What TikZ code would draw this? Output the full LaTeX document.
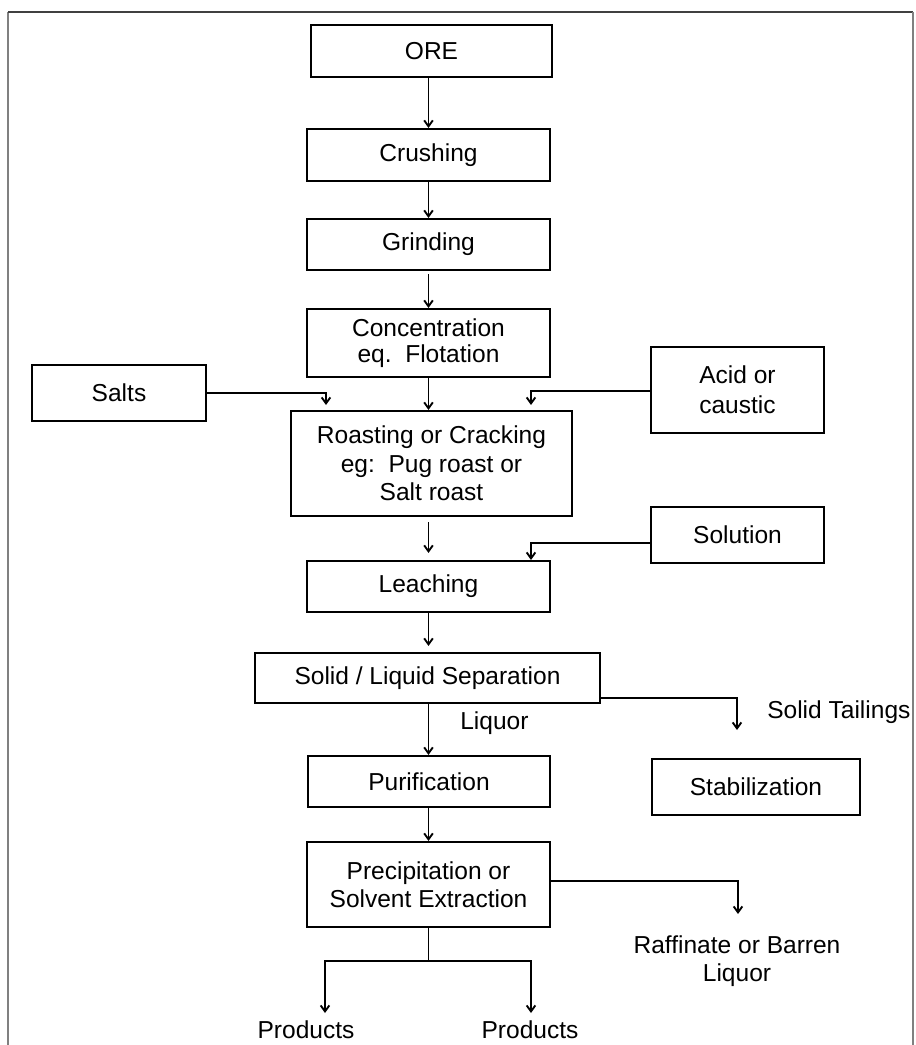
\documentclass[tikz,border=0pt]{standalone}
\usepackage{fontspec}
\setmainfont{Liberation Sans}
\usetikzlibrary{arrows.meta}
\begin{document}
\begin{tikzpicture}[x=0.75pt,y=-0.75pt,
  box/.style={draw, line width=1.6pt, inner sep=0pt, align=center,
    font=\fontsize{18.4}{21.4}\selectfont},
  lab/.style={inner sep=0pt, align=center, font=\fontsize{18.4}{21.4}\selectfont},
  conn/.style={line width=1.4pt},
  arr/.style={line width=1.4pt, -{Straight Barb[length=4.5pt,width=6.5pt]}},
  frameline/.style={line width=1.5pt, color=gray}]
\useasboundingbox (0,0) rectangle (915,1045);
% outer frame (open at the bottom)
\draw[frameline] (8,1045) -- (8,12);
\draw[frameline, color=black!75] (8,12) -- (913,12);
\draw[frameline] (913,12) -- (913,1045);
% boxes
\node[box, minimum width=180.75pt, minimum height=39pt] (ore) at (431.5,51) {ORE};
\node[box, minimum width=182.25pt, minimum height=39pt] (crush) at (428.5,155) {Crushing};
\node[box, minimum width=182.25pt, minimum height=38.25pt] (grind) at (428.5,244.5) {Grinding};
\node[box, minimum width=182.25pt, minimum height=51pt, font=\fontsize{18.4}{19}\selectfont] (conc) at (428.5,343) {Concentration\\eq.\ \ Flotation};
\node[box, minimum width=130.5pt, minimum height=42pt] (salts) at (119,393) {Salts};
\node[box, minimum width=129.75pt, minimum height=64.5pt, font=\fontsize{18.4}{22.5}\selectfont] (acid) at (737.5,390) {Acid or\\caustic};
\node[box, minimum width=210.75pt, minimum height=78.75pt] (roast) at (431.5,463.5) {Roasting or Cracking\\eg:\ \ Pug roast or\\Salt roast};
\node[box, minimum width=129.75pt, minimum height=42pt] (sol) at (737.5,535) {Solution};
\node[box, minimum width=182.25pt, minimum height=38.25pt] (leach) at (428.5,586.5) {Leaching};
\node[box, minimum width=258.75pt, minimum height=37.5pt] (sep) at (427.5,678) {Solid / Liquid Separation};
\node[box, minimum width=181.5pt, minimum height=38.25pt] (pur) at (429,781.5) {Purification};
\node[box, minimum width=156pt, minimum height=42pt] (stab) at (756,787) {Stabilization};
\node[box, minimum width=182.25pt, minimum height=63.75pt] (prec) at (428.5,884.5) {Precipitation or\\Solvent Extraction};
% free labels
\node[lab, anchor=west] (tail) at (767,712) {Solid Tailings};
\node[lab, anchor=west] (liq) at (460,723) {Liquor};
\node[lab] (raff) at (737,961) {Raffinate or Barren\\Liquor};
\node[lab] (prodL) at (306,1030) {Products};
\node[lab] (prodR) at (530,1030) {Products};
% connector end points
\coordinate (saltin) at (326,405);
\coordinate (acidin) at (531,405);
\coordinate (solin) at (531,560);
\coordinate (tailend) at (737,730);
\coordinate (raffend) at (738,914);
\coordinate (split) at (428.5,961);
\coordinate (pL) at (325,1013);
\coordinate (pR) at (531,1013);
% connectors
\draw[arr] (ore.south -| crush.south) -- (crush);
\draw[arr] (crush) -- (grind);
\draw[arr, shorten <=2.25pt] (grind) -- (conc);
\draw[arr] (conc) -- (roast.north -| conc.south);
\draw[arr] (salts.east) -| (saltin);
\draw[arr] (acid.west |- 0,391) -| (acidin);
\draw[arr, shorten <=3.75pt, shorten >=5.25pt] (roast.south -| leach.north) -- (leach);
\draw[arr] (sol.west |- 0,543) -| (solin);
\draw[arr, shorten >=4.5pt] (leach) -- (sep.north -| leach.south);
\draw[arr] (sep.south -| prec.north) -- (pur.north -| prec.north);
\draw[arr] (sep.east |- 0,698) -| (tailend);
\draw[arr] (pur.south -| prec.north) -- (prec);
\draw[arr] (prec.east |- 0,881) -| (raffend);
\draw[conn] (prec.south) -- (split);
\draw[arr] (split) -| (pL);
\draw[arr] (split) -| (pR);
\end{tikzpicture}
\end{document}
